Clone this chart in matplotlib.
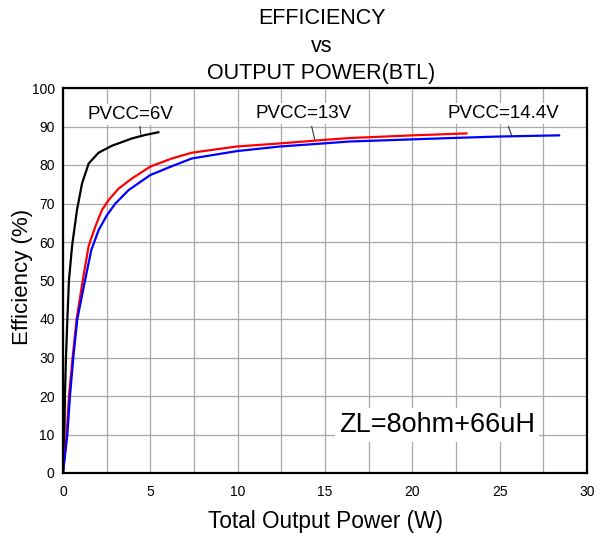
import matplotlib
matplotlib.use("Agg")
import matplotlib.pyplot as plt
import numpy as np

plt.rcParams['font.family'] = ['Liberation Sans', 'DejaVu Sans']

# --- data ---
p_6v = [0, 0.08, 0.11, 0.17, 0.25, 0.34, 0.52, 0.8, 1.09, 1.47, 2.04, 2.8, 3.95, 4.7, 5.46]
eff_6v = [0, 10, 20, 30, 40, 50, 59, 68.3, 75.2, 80.4, 83.2, 85.0, 86.9, 87.8, 88.5]

p_13v = [0, 0.21, 0.34, 0.55, 0.78, 1.13, 1.47, 1.85, 2.23, 2.61, 3.19, 3.95, 5.0,
         6.24, 7.38, 9.94, 12.4, 14.9, 16.4, 20, 23.1]
eff_13v = [0, 10, 20, 30, 40, 50, 59, 64, 68.3, 70.9, 73.9, 76.5, 79.6,
           81.7, 83.2, 84.8, 85.6, 86.5, 87.0, 87.7, 88.2]

p_14v = [0, 0.25, 0.4, 0.59, 0.82, 1.26, 1.62, 2.04, 2.52, 3.0, 3.76, 5.0, 6.24,
         7.38, 9.94, 12.4, 14.9, 16.4, 22.2, 25, 28.4]
eff_14v = [0, 10, 20, 30, 40, 50, 57.9, 63.1, 67, 70, 73.5, 77.4, 79.7,
           81.7, 83.6, 84.8, 85.6, 86.1, 87.0, 87.4, 87.7]

labels = ["PVCC=6V", "PVCC=13V", "PVCC=14.4V"]
x_ticks = [0, 5, 10, 15, 20, 25, 30]
y_ticks = [0, 10, 20, 30, 40, 50, 60, 70, 80, 90, 100]

fig = plt.figure(figsize=(6.01, 5.36), dpi=100)
ax = fig.add_axes([63/601, 1 - 473/536, 524/601, 385/536])

for px, ey, c in [(p_6v, eff_6v, 'black'), (p_13v, eff_13v, '#ff0000'), (p_14v, eff_14v, '#0000ff')]:
    ax.plot(px, ey, color=c, lw=1.6, zorder=3, solid_joinstyle='round')

ax.set_xlim(0, 30)
ax.set_ylim(0, 100)
ax.set_xticks(x_ticks)
ax.set_yticks(y_ticks)
ax.set_xticks(np.arange(2.5, 30, 5), minor=True)
ax.grid(True, which='both', color='#a8a8a8', lw=0.9, zorder=0)
ax.tick_params(which='both', length=0)
ax.tick_params(axis='x', labelsize=10, pad=9)
ax.tick_params(axis='y', labelsize=10, pad=6)
for s in ax.spines.values():
    s.set_linewidth(1.6)
    s.set_zorder(4)

ax.set_xlabel("Total Output Power (W)", fontsize=16.3, va='center')
ax.set_ylabel("Efficiency (%)", fontsize=16, va='center')
ax.xaxis.set_label_coords(0.5, -0.125)
ax.yaxis.set_label_coords(-0.078, 0.51)

fig.text(0.535, 0.966, "EFFICIENCY", ha='center', va='center', fontsize=15.5)
fig.text(0.535, 0.913, "vs", ha='center', va='center', fontsize=15.5)
fig.text(0.535, 0.862, "OUTPUT POWER(BTL)", ha='center', va='center', fontsize=15.5)

# curve labels with leader lines
label_pos = [(3.84, 93.2), (13.8, 93.4), (25.2, 93.4)]
leader = [((4.4, 90.0), (4.45, 88.0)),
          ((14.24, 90.0), (14.42, 86.4)),
          ((25.5, 90.0), (25.7, 87.5))]
for lab, (tx, ty), ((x0, y0), (x1, y1)) in zip(labels, label_pos, leader):
    ax.text(tx, ty, lab, ha='center', va='center', fontsize=13.5, zorder=2,
            bbox=dict(fc='white', ec='none', pad=1.5))
    ax.plot([x0, x1], [y0, y1], color='#333333', lw=0.8, zorder=2)

ax.text(21.4, 12.5, "ZL=8ohm+66uH", ha='center', va='center', fontsize=19.5, zorder=2,
        bbox=dict(fc='white', ec='none', pad=3))

fig.savefig("out.png", dpi=100)
